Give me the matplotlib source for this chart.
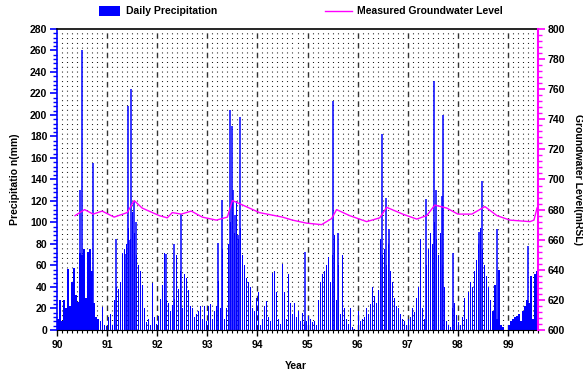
import numpy as np
import matplotlib.pyplot as plt
from matplotlib.patches import Rectangle
from matplotlib.lines import Line2D

plt.rcParams['font.family'] = ['Liberation Sans', 'DejaVu Sans']
plt.rcParams['font.weight'] = 'bold'

# background daily rainfall, one value every 0.04 year starting at 90.00 (mm)
rain_step = 0.04
rain_90 = [10, 28, 8, 28, 20, 57, 22, 45, 58, 33, 26, 72, 70, 75, 30,
           73, 75, 55, 25, 12, 10, 8, 21, 5, 4]
rain_91 = [12, 15, 5, 28, 40, 38, 45, 72, 75, 80, 95, 85, 110, 90, 70,
           60, 55, 42, 20, 7, 10, 5, 44, 12, 6]
rain_92 = [13, 29, 42, 72, 28, 25, 18, 23, 29, 70, 38, 55, 20, 52, 48,
           37, 22, 20, 12, 15, 18, 22, 10, 22, 8]
rain_93 = [22, 24, 10, 18, 22, 46, 20, 75, 10, 20, 80, 100, 110, 90, 120,
           85, 95, 70, 60, 48, 45, 40, 20, 18, 30]
rain_94 = [35, 5, 10, 22, 27, 12, 8, 53, 55, 35, 10, 6, 61, 35, 10,
           52, 25, 15, 25, 12, 18, 8, 16, 7, 8]
rain_95 = [13, 10, 7, 8, 5, 28, 45, 52, 55, 60, 68, 45, 70, 88, 28,
           60, 15, 70, 20, 10, 6, 20, 3, 1, 0]
rain_96 = [18, 8, 10, 12, 20, 15, 24, 40, 32, 25, 37, 85, 70, 75, 60,
           80, 55, 45, 30, 22, 20, 15, 10, 8, 5]
rain_97 = [10, 12, 20, 17, 30, 40, 85, 20, 10, 60, 75, 90, 80, 100, 85,
           70, 90, 60, 40, 8, 5, 3, 20, 25, 14]
rain_98 = [7, 5, 12, 30, 10, 35, 45, 40, 55, 65, 80, 95, 75, 60, 50,
           40, 28, 18, 42, 10, 56, 5, 3, 0, 0]
rain_99 = [5, 8, 10, 12, 13, 15, 8, 18, 22, 28, 25, 50, 10, 52, 55]

# isolated storm days (year, mm)
storm_year = [90.46, 90.50, 90.64, 90.72, 91.18, 91.36, 91.42, 91.44, 91.48,
              91.54, 91.58, 92.18, 92.34, 92.48, 93.22, 93.30, 93.46, 93.50,
              93.52, 93.56, 93.62, 93.66, 94.94, 95.50, 95.60, 96.48, 96.56,
              96.62, 97.36, 97.52, 97.56, 97.68, 97.70, 97.90, 98.42, 98.48,
              98.78, 99.40]
storm_mm = [130, 260, 72, 155, 85, 71, 208, 84, 224,
            120, 100, 71, 80, 108, 81, 121, 205, 190,
            130, 107, 88, 198, 73, 213, 90, 182, 123,
            94, 122, 232, 130, 125, 200, 72, 91, 139,
            94, 78]

# measured groundwater level (mRSL)
gw_year = [90.36, 90.55, 90.72, 90.9, 91.14, 91.4, 91.54, 91.7, 92.04, 92.2,
           92.3, 92.48, 92.68, 92.9, 93.18, 93.4, 93.5, 93.64, 93.84, 94.04,
           94.5, 94.7, 94.98, 95.28, 95.48, 95.58, 95.84, 96.18, 96.44, 96.58,
           96.9, 97.18, 97.38, 97.54, 97.78, 98.0, 98.28, 98.54, 98.78, 99.04,
           99.44, 99.52, 99.58]
gw_level = [676, 680, 677, 679, 675, 678, 686, 681, 676, 674.5,
            678, 677, 679, 675, 673, 675, 686, 684, 681, 678,
            675, 673, 671, 670, 674, 680, 676, 672, 674.5, 681.5,
            677, 673.7, 676, 683, 681, 677, 677, 682, 676, 673,
            672, 673, 681]

rain = rain_90 + rain_91 + rain_92 + rain_93 + rain_94 + rain_95 + rain_96 + rain_97 + rain_98 + rain_99
rain_year = 90 + rain_step * np.arange(len(rain)) + 0.02

fig = plt.figure(figsize=(5.83, 3.77), dpi=100)
ax = fig.add_axes([0.0978, 0.1247, 0.8250, 0.7984])

# dotted fine grid and dashed year lines
for k in range(96):
  x = 90 + 0.1 * (k + 1)
  if (k + 1) % 10 == 0:
    ax.axvline(x, color='#333333', lw=1.0, ls=(0, (4, 3)), zorder=1)
  else:
    ax.axvline(x, color='black', lw=0.8, ls=(0, (0.8, 3.5)), zorder=1)

ax.bar(rain_year, rain, width=0.024, color='#0000ff', linewidth=0, zorder=2)
ax.vlines(storm_year, 0, storm_mm, color='#0000ff', lw=1.1, zorder=2)

ax.set_xlim(90, 99.6)
ax.set_ylim(0, 280)
ax.set_xticks(range(90, 100))
ax.set_xticks(np.arange(90, 99.61, 0.1), minor=True)
ax.set_yticks(range(0, 281, 20))
ax.set_yticks(range(0, 281, 4), minor=True)
ax.tick_params(axis='x', which='major', length=4, width=1, labelsize=7.5, pad=3)
ax.tick_params(axis='x', which='minor', length=2.5, width=0.8)
ax.tick_params(axis='y', which='major', length=5, width=1.2, color='#0000ff', labelsize=7.5, pad=2)
ax.tick_params(axis='y', which='minor', length=3, width=1, color='#0000ff')
for lab in ax.get_xticklabels() + ax.get_yticklabels():
  lab.set_fontweight('bold')
ax.spines['left'].set_color('#0000ff')
ax.spines['left'].set_linewidth(1.2)
ax.spines['right'].set_visible(False)
ax.spines['top'].set_linestyle((0, (1, 1)))
ax.spines['top'].set_linewidth(1.2)

ax2 = ax.twinx()
ax2.set_position(ax.get_position())
ax2.plot(gw_year, gw_level, color='#ff00ff', lw=1.0, zorder=3)
ax2.set_ylim(600, 800)
ax2.set_yticks(range(600, 801, 20))
ax2.set_yticks(range(600, 801, 4), minor=True)
ax2.tick_params(axis='y', which='major', length=5, width=1.2, color='#ff00ff', labelsize=7.5, pad=2)
ax2.tick_params(axis='y', which='minor', length=3, width=1, color='#ff00ff')
for lab in ax2.get_yticklabels():
  lab.set_fontweight('bold')
ax2.spines['right'].set_color('#ff00ff')
ax2.spines['right'].set_linewidth(1.5)
for s in ['left', 'top', 'bottom']:
  ax2.spines[s].set_visible(False)

# legend entries across the top
fig.add_artist(Rectangle((0.170, 0.958), 0.036, 0.026, transform=fig.transFigure,
                         facecolor='#0000ff', edgecolor='none'))
fig.text(0.216, 0.971, 'Daily Precipitation', fontsize=7.5, fontweight='bold', va='center')
fig.add_artist(Line2D([0.557, 0.604], [0.971, 0.971], transform=fig.transFigure,
                      color='#ff00ff', lw=1.0))
fig.text(0.612, 0.971, 'Measured Groundwater Level', fontsize=7.5, fontweight='bold', va='center')

fig.text(0.026, 0.524, 'Precipitatio n(mm)', rotation=90, fontsize=7.5, fontweight='bold',
         ha='center', va='center')
fig.text(0.991, 0.524, 'Groundwater Level(mRSL)', rotation=270, fontsize=7.5, fontweight='bold',
         ha='center', va='center')
fig.text(0.508, 0.029, 'Year', fontsize=7.5, fontweight='bold', ha='center', va='center')

fig.savefig('out.png', dpi=100)
